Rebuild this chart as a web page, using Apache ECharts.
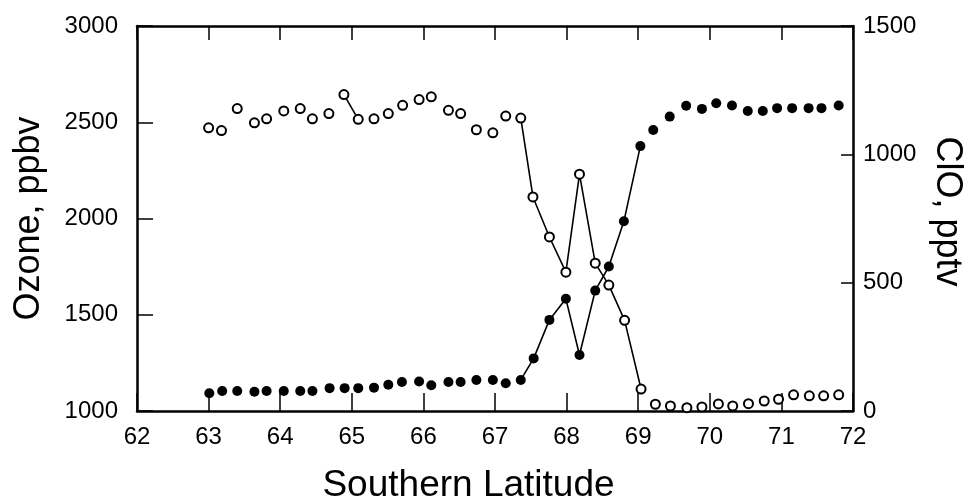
<!DOCTYPE html>
<html>
<head>
<meta charset="utf-8">
<script src="https://cdn.jsdelivr.net/npm/echarts@6/dist/echarts.min.js"></script>
<style>html,body{margin:0;padding:0;background:#fff;overflow:hidden;}#c{width:969px;height:502px;}</style>
</head>
<body>
<div id="c"></div>
<script>
// Ozone (open circles, left axis)
const ozoneLat = [63.00,63.18,63.40,63.64,63.81,64.05,64.28,64.45,64.68,64.89,65.09,65.31,65.51,65.71,65.94,66.11,66.35,66.52,66.74,66.97,67.15,67.36,67.53,67.76,67.99,68.18,68.40,68.59,68.81,69.04,69.24,69.45,69.68,69.89,70.12,70.32,70.54,70.76,70.96,71.17,71.39,71.59,71.80];
const ozoneVal = [2471,2457,2571,2497,2518,2559,2571,2518,2545,2644,2515,2518,2545,2588,2618,2632,2562,2545,2461,2445,2532,2522,2112,1904,1721,2230,1768,1654,1471,1114,1035,1026,1017,1021,1037,1026,1038,1052,1061,1084,1079,1079,1084];
// ClO (filled circles, right axis)
const cloLat = [63.01,63.19,63.40,63.64,63.81,64.05,64.28,64.45,64.69,64.90,65.09,65.31,65.51,65.70,65.94,66.11,66.35,66.52,66.74,66.97,67.15,67.36,67.54,67.76,67.99,68.18,68.40,68.59,68.80,69.03,69.21,69.44,69.67,69.89,70.09,70.31,70.53,70.74,70.94,71.15,71.38,71.56,71.80];
const cloVal = [69,78,78,75,78,78,78,78,89,89,89,91,102,113,115,100,113,113,121,121,108,121,205,355,437,218,469,563,739,1032,1095,1147,1189,1177,1199,1190,1169,1169,1180,1180,1180,1180,1190];
// connected segments (index ranges, inclusive)
const ozoneSegments = [[9,10],[21,29]];
const cloSegments = [[21,29]];
const xTicks = [62,63,64,65,66,67,68,69,70,71,72];
const ozoneTicks = [1000,1500,2000,2500,3000];
const cloTicks = [0,500,1000,1500];

const pairs = (xs, ys) => xs.map((x, i) => [x, ys[i]]);
const ozData = pairs(ozoneLat, ozoneVal);
const clData = pairs(cloLat, cloVal);

const font = 'Liberation Sans, Arial, sans-serif';
const plain = v => String(v);
const series = [];
ozoneSegments.forEach(([a,b]) => series.push({type:'line', xAxisIndex:0, yAxisIndex:0, data: ozData.slice(a,b+1), symbol:'none', lineStyle:{color:'#000', width:1.6, opacity:1}, z:1, silent:true}));
cloSegments.forEach(([a,b]) => series.push({type:'line', xAxisIndex:0, yAxisIndex:1, data: clData.slice(a,b+1), symbol:'none', lineStyle:{color:'#000', width:1.6, opacity:1}, z:1, silent:true}));
series.push({type:'scatter', xAxisIndex:0, yAxisIndex:0, data: ozData, symbol:'circle', symbolSize:9, itemStyle:{color:'#fff', borderColor:'#000', borderWidth:2, opacity:1}, z:3});
series.push({type:'scatter', xAxisIndex:0, yAxisIndex:1, data: clData, symbol:'circle', symbolSize:10, itemStyle:{color:'#000', opacity:1}, z:3});

const chart = echarts.init(document.getElementById('c'), null, {renderer:'canvas', width:969, height:502});
chart.setOption({
  animation:false,
  backgroundColor:'#fff',
  grid:{left:137, right:116, top:26, bottom:91, containLabel:false, outerBoundsMode:'none'},
  xAxis:[{
    type:'value', min:xTicks[0], max:xTicks[xTicks.length-1], interval:1, position:'bottom',
    name:'Southern Latitude', nameLocation:'middle', nameGap:56,
    nameTextStyle:{fontFamily:font, fontSize:37, color:'#000', padding:[0,53,0,0]},
    axisLine:{show:true, lineStyle:{color:'#000', width:2.5}},
    axisTick:{show:true, inside:true, length:18, lineStyle:{color:'#000', width:1.5}},
    axisLabel:{fontFamily:font, fontSize:24, color:'#000', margin:14, formatter:plain},
    splitLine:{show:false}
  },{
    type:'value', min:xTicks[0], max:xTicks[xTicks.length-1], interval:1, position:'top',
    axisLine:{show:true, lineStyle:{color:'#000', width:2.5}},
    axisTick:{show:true, inside:true, length:14, lineStyle:{color:'#000', width:1.5}},
    axisLabel:{show:false}, splitLine:{show:false}
  }],
  yAxis:[{
    type:'value', min:ozoneTicks[0], max:ozoneTicks[ozoneTicks.length-1], interval:500, position:'left',
    name:'Ozone, ppbv', nameLocation:'middle', nameGap:90, nameRotate:90,
    nameTextStyle:{fontFamily:font, fontSize:36, color:'#000'},
    axisLine:{show:true, lineStyle:{color:'#000', width:2.5}},
    axisTick:{show:true, inside:true, length:16, lineStyle:{color:'#000', width:1.5}},
    axisLabel:{fontFamily:font, fontSize:24, color:'#000', margin:19, formatter:plain},
    splitLine:{show:false}
  },{
    type:'value', min:cloTicks[0], max:cloTicks[cloTicks.length-1], interval:500, position:'right',
    name:'ClO, pptv', nameLocation:'middle', nameGap:76, nameRotate:-90,
    nameTextStyle:{fontFamily:font, fontSize:36, color:'#000', padding:[0,14,0,0]},
    axisLine:{show:true, lineStyle:{color:'#000', width:2.5}},
    axisTick:{show:true, inside:true, length:12, lineStyle:{color:'#000', width:1.5}},
    axisLabel:{fontFamily:font, fontSize:24, color:'#000', margin:10, formatter:plain},
    splitLine:{show:false}
  }],
  series: series
});
</script>
</body>
</html>
